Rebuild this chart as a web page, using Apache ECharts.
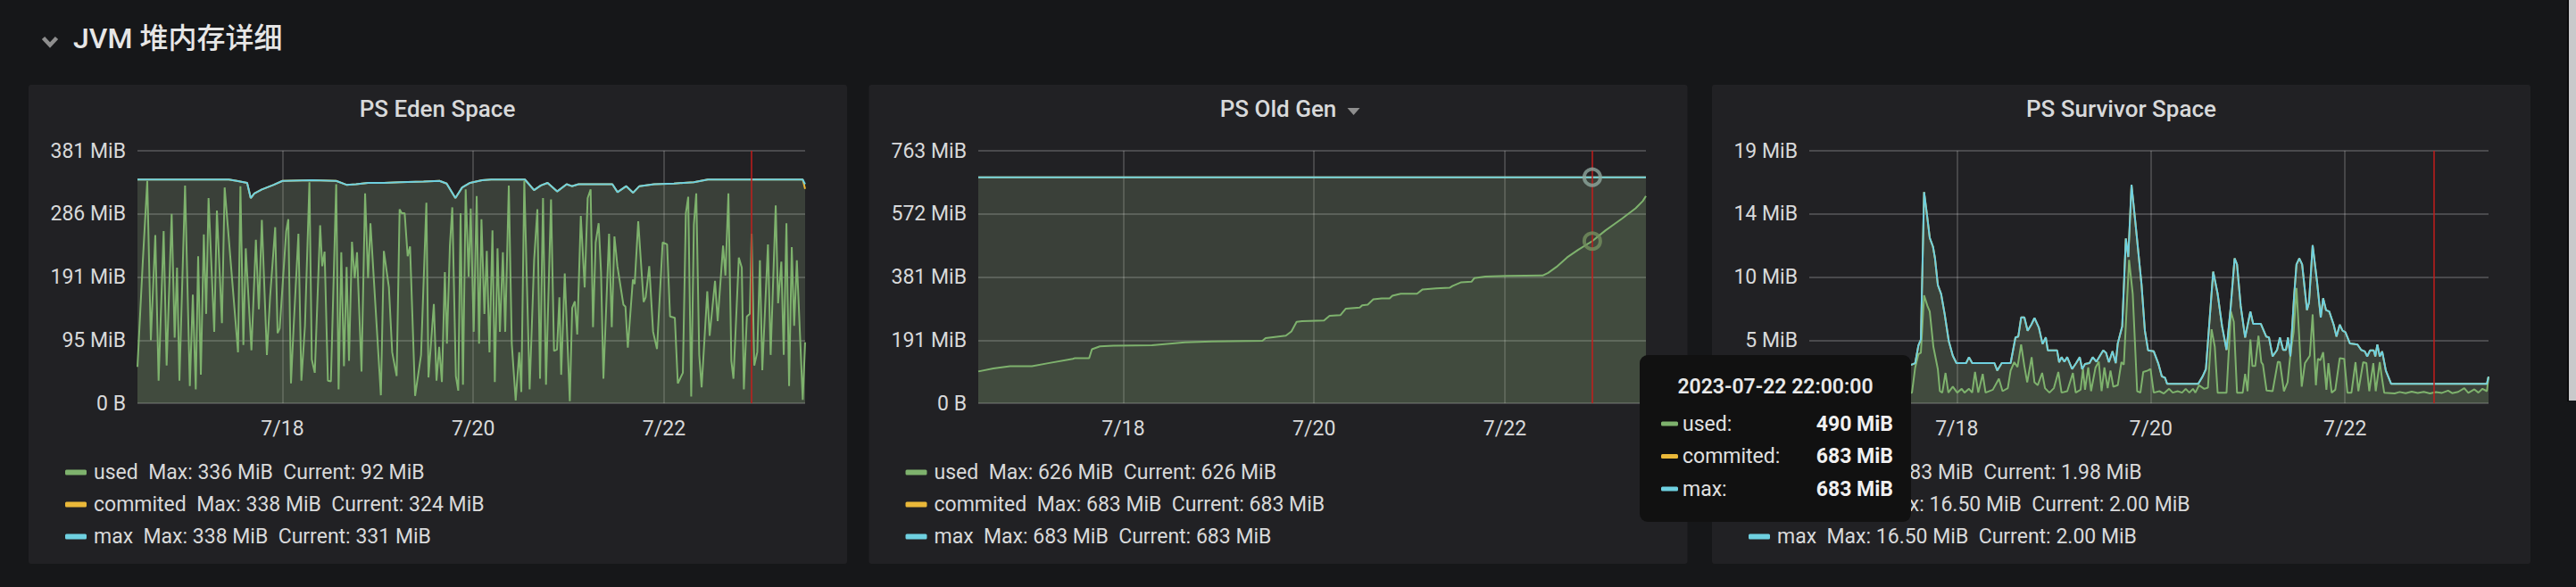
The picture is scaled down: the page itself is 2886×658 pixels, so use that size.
<!DOCTYPE html>
<html><head><meta charset="utf-8">
<script src="https://cdn.jsdelivr.net/npm/echarts@6/dist/echarts.min.js"></script>
<style>html,body{margin:0;padding:0;background:#161719;overflow:hidden}#c{width:2886px;height:658px}</style>
</head><body><div id="c"></div>
<script>
// ---------------- data ----------------
const rangeStartUTC = [2023, 6, 16, 11, 30];      // x = hours since 2023-07-16 11:30
const rangeHours = 168;
const xTickHours = [36.5, 84.5, 132.5];           // 7/18, 7/20, 7/22 00:00
const crosshairHour = 154.5;                      // 2023-07-22 22:00
const crosshairLabel = '2023-07-22 22:00:00';
const seriesNames = ['used', 'commited', 'max'];
const seriesColors = ['#7EB26D', '#EAB839', '#6ED0E0'];
const panelTitles = ['PS Eden Space', 'PS Old Gen', 'PS Survivor Space'];
const yStepsMiB = [95.367431640625, 190.73486328125, 4.76837158203125];

// [hours since range start, MiB]
const edenUsed = [[0,55],[1.35,215],[2.47,336],[3.37,95],[4.49,254],[5.32,34],[6.59,260],[7.34,57],[8.61,286],[9.36,99],[9.96,205],[10.56,34],[11.98,329],[13.18,26],[13.93,164],[14.67,21],[15.27,222],[15.95,43],[16.7,255],[17.29,135],[17.89,310],[19.32,108],[19.99,291],[21.26,121],[21.94,326],[25.31,77],[25.91,328],[26.65,88],[27.25,234],[28.68,80],[29.8,247],[30.55,142],[31.3,277],[32.57,73],[33.39,162],[34.66,266],[35.26,106],[35.79,113],[37.43,260],[37.96,278],[38.63,30],[39.31,117],[40.5,256],[41.25,34],[42.15,117],[43.27,334],[43.87,66],[44.62,46],[45.97,269],[46.49,207],[47.09,229],[47.92,34],[48.67,33],[50.01,331],[50.61,21],[51.29,228],[51.96,56],[52.63,206],[53.23,64],[53.98,244],[54.66,189],[55.25,228],[56.38,48],[57.28,317],[58.03,189],[58.63,272],[61.25,12],[62.0,230],[63.27,175],[64.1,77],[65.22,41],[65.97,293],[66.5,287],[67.24,287],[67.99,222],[68.59,237],[69.86,11],[71.36,73],[72.7,303],[73.23,39],[74.58,150],[75.25,34],[75.92,85],[76.6,32],[77.35,198],[77.87,90],[78.62,238],[79.22,296],[80.12,41],[80.72,19],[81.31,287],[81.91,28],[82.59,323],[83.34,191],[83.86,294],[84.61,108],[85.36,313],[85.96,90],[86.56,278],[87.3,135],[87.9,230],[88.58,77],[89.33,261],[89.92,32],[90.6,234],[91.2,108],[91.95,228],[92.54,108],[93.44,329],[94.19,90],[95.17,4],[96.06,77],[96.59,17],[97.34,336],[98.68,21],[99.81,216],[100.63,293],[101.3,37],[102.05,310],[102.8,28],[104.07,308],[104.82,79],[105.57,81],[106.17,160],[106.62,43],[107.52,196],[108.79,3],[109.39,144],[110.06,154],[110.66,104],[111.56,283],[112.53,175],[113.28,310],[114.03,323],[114.63,115],[115.3,243],[116.05,272],[116.65,198],[117.25,37],[118.67,256],[119.35,115],[120.02,252],[120.77,207],[122.27,149],[122.79,146],[123.39,84],[124.66,187],[125.11,180],[126.01,275],[127.36,153],[127.88,160],[128.78,207],[129.75,108],[130.73,82],[132.15,243],[133.27,240],[134.02,131],[135.22,129],[135.97,30],[137.24,46],[137.99,287],[138.59,312],[139.34,10],[140.01,270],[140.61,317],[141.36,73],[141.96,24],[143.38,169],[143.98,102],[145.33,185],[146.0,124],[147.35,238],[147.95,193],[148.7,317],[149.44,64],[149.97,37],[151.32,220],[152.07,205],[152.59,21],[153.34,131],[154.09,135],[154.54,256],[155.21,57],[155.96,77],[156.63,216],[157.23,50],[158.65,240],[159.33,73],[160.6,299],[161.2,151],[162.02,214],[162.62,73],[163.3,272],[163.97,26],[164.64,236],[165.24,117],[165.92,216],[167.41,5],[168,92]];
const edenMax = [[0,338],[23,338],[25,336],[27.6,333],[28.5,310],[29.4,317],[31.3,323],[34.3,330],[36.5,336],[44,337],[50,336],[52.6,330],[55,331],[58,333],[62,333],[66,334],[72,335],[76,336],[77.8,332],[80,310],[81.7,326],[83.7,333],[86.7,337],[89,338],[97.5,338],[99.8,322],[101.5,329],[103.2,333],[105.6,320],[108,331],[109.3,328],[111,331],[115,331],[119.5,331],[120.8,319],[123,328],[124.7,318],[126.3,328],[130,331],[135,332],[140,334],[143.5,338],[167.4,338],[168,331]];
const edenCommitted = [[0,338],[23,338],[25,336],[27.6,333],[28.5,310],[29.4,317],[31.3,323],[34.3,330],[36.5,336],[44,337],[50,336],[52.6,330],[55,331],[58,333],[62,333],[66,334],[72,335],[76,336],[77.8,332],[80,310],[81.7,326],[83.7,333],[86.7,337],[89,338],[97.5,338],[99.8,322],[101.5,329],[103.2,333],[105.6,320],[108,331],[109.3,328],[111,331],[115,331],[119.5,331],[120.8,319],[123,328],[124.7,318],[126.3,328],[130,331],[135,332],[140,334],[143.5,338],[167.4,338],[168,324]];

const oldUsed = [[0,96],[3.8,105],[8,112],[13.5,112],[17.6,121],[23.8,134],[24.2,136],[27.9,136],[28.6,163],[30.6,172],[34,174],[43.7,175],[52,184],[58.8,187],[71.5,189],[72.3,197],[77.4,204],[78.8,217],[80.1,246],[81.5,248],[87,250],[88.4,264],[91.1,266],[92.5,286],[96,289],[96.6,296],[98,298],[99.4,314],[101.5,317],[103.5,317],[104.2,325],[106.3,331],[110.4,331],[111.8,344],[115.2,347],[118.6,349],[119.3,354],[121.4,365],[124.1,367],[124.8,378],[127.6,383],[133.1,385],[142,386],[143.4,394],[145.5,412],[148.2,441],[151,464],[154.5,490],[157.8,522],[162,558],[165.4,589],[167.2,611],[168,626]];
const oldCommitted = [[0,683],[154.5,683],[168,683]];
const oldMax = [[0,683],[154.5,683],[168,683]];

const survivorUsed = [[0,0.85],[25.4,0.80],[26.2,2.70],[27.0,3.70],[27.6,3.81],[28.4,8.15],[29.2,7.37],[29.8,6.93],[30.7,4.26],[31.8,2.58],[32.3,0.91],[32.9,0.80],[33.7,2.29],[34.4,0.80],[35.5,1.25],[36.6,0.80],[37.7,1.09],[38.4,0.80],[39.5,1.09],[40.3,0.80],[41.0,2.36],[41.8,0.80],[42.9,2.21],[43.6,0.80],[45.4,1.02],[46.9,1.85],[47.8,0.91],[49.1,1.14],[49.8,2.47],[50.7,3.10],[51.5,2.74],[52.4,4.43],[53.2,2.81],[53.9,1.58],[55.0,3.48],[55.7,1.58],[56.5,1.36],[57.6,2.29],[58.3,1.14],[59.4,0.80],[60.5,1.14],[61.6,2.36],[62.4,0.80],[63.8,0.91],[65.2,2.29],[65.9,0.80],[67.1,1.02],[67.7,2.58],[68.2,1.02],[69.0,2.70],[69.7,0.91],[70.8,2.70],[71.6,3.14],[72.3,0.91],[73.0,2.70],[73.8,1.14],[74.5,2.47],[75.2,1.25],[76.3,1.36],[77.2,3.10],[77.8,2.92],[79.1,10.83],[80.0,8.27],[81.1,0.91],[81.9,0.80],[82.6,2.36],[83.7,2.47],[84.4,2.58],[85.2,0.80],[86.6,0.91],[87.7,0.74],[89.0,1.09],[89.9,0.80],[91.1,0.91],[92.2,0.80],[93.1,1.09],[94.0,0.80],[94.9,1.09],[95.5,0.80],[96.4,1.36],[97.7,1.09],[98.6,1.18],[99.5,5.59],[100.3,4.26],[101.0,0.80],[103.2,0.80],[104.3,6.93],[105.0,6.15],[105.8,0.80],[107.2,0.80],[107.8,2.21],[108.4,0.91],[109.1,4.81],[109.6,2.81],[110.3,2.81],[111.1,5.10],[111.8,3.10],[112.2,2.92],[113.1,0.96],[114.6,0.91],[115.9,3.14],[116.4,3.10],[117.4,0.91],[118.3,1.58],[119.0,3.70],[119.8,5.37],[120.5,8.71],[121.2,4.92],[121.8,1.25],[122.6,3.03],[123.8,3.59],[124.5,6.71],[125.3,1.36],[125.8,3.36],[126.4,3.25],[127.1,3.85],[127.9,1.02],[128.4,3.03],[129.2,0.80],[130.1,1.02],[131.2,3.41],[132.3,3.36],[133.1,0.80],[134.1,0.80],[135.1,3.10],[135.8,0.91],[137.0,3.10],[137.8,3.03],[138.5,0.91],[139.5,3.03],[140.1,0.91],[141.1,3.10],[141.7,1.80],[142.2,0.80],[144.8,0.74],[146,0.85],[147.5,0.76],[149,0.88],[150.5,0.78],[152,0.86],[153.5,0.74],[155,0.84],[156.5,0.78],[158,0.95],[159,0.76],[160.5,0.86],[162,1.14],[163,0.78],[164.5,1.05],[165.5,0.80],[166.5,1.09],[167.6,0.91],[168,1.98]];
const survivorMax = [[0,2.96],[25.4,2.92],[26.2,3.03],[27.0,4.37],[27.6,4.81],[28.4,15.95],[29.1,14.28],[29.8,12.5],[30.6,11.83],[31.1,10.94],[31.8,8.93],[32.6,8.27],[33.5,6.71],[34.5,4.70],[35.5,3.59],[36.4,3.03],[38.8,3.03],[39.5,3.48],[40.3,3.03],[45.8,3.03],[46.5,2.47],[47.6,3.03],[49.8,3.03],[51.0,4.97],[51.7,5.04],[52.4,6.48],[53.2,6.48],[54.0,5.48],[54.9,5.93],[55.7,6.44],[56.8,5.70],[57.7,4.48],[58.5,4.97],[59.0,3.99],[61.3,3.99],[61.8,3.10],[62.4,3.48],[63.1,3.14],[63.8,3.48],[65.0,2.58],[66.0,3.03],[66.9,3.48],[67.5,2.58],[68.2,2.96],[69.3,3.03],[70.1,3.48],[71.0,3.14],[72.7,3.99],[73.4,3.81],[74.1,3.10],[75.0,3.92],[75.8,3.03],[76.3,4.52],[77.4,5.82],[78.3,12.45],[78.9,11.05],[79.7,16.50],[80.6,13.84],[81.9,9.83],[82.2,8.9],[83.0,5.5],[83.8,4.0],[85.2,3.92],[86.3,3.03],[87.2,2.03],[88.0,1.92],[88.5,1.47],[96.2,1.47],[97.3,2.03],[98.1,2.58],[99.9,9.94],[101.0,8.27],[102.1,5.82],[103.2,4.03],[104.2,7.15],[105.2,10.94],[105.8,10.49],[106.7,7.37],[107.8,4.97],[109.1,6.93],[109.8,5.99],[111.7,5.99],[113.0,5.04],[113.7,4.97],[114.6,3.54],[115.7,4.03],[116.4,4.97],[117.2,4.03],[117.9,4.03],[118.4,4.97],[119.0,3.54],[119.9,8.04],[120.5,10.49],[121.2,10.94],[121.9,10.49],[123.1,7.04],[123.6,7.60],[124.5,11.94],[125.6,9.16],[126.5,6.48],[127.1,7.93],[127.8,7.04],[128.6,6.93],[129.7,5.93],[130.4,5.04],[131.2,5.93],[131.9,5.48],[132.6,5.37],[133.7,4.52],[134.6,4.48],[135.6,4.43],[136.5,4.03],[137.4,3.92],[138.0,3.54],[138.7,3.99],[139.6,3.99],[140.0,3.54],[140.5,4.43],[141.1,3.54],[141.7,3.92],[142.6,2.47],[143.9,1.47],[167.6,1.47],[168,2.00]];
const survivorCommitted = survivorMax; // identical in the source (Max 16.50 / Current 2.00)

const edenLegendMax = ['336 MiB', '338 MiB', '338 MiB'];
const edenLegendCurrent = ['92 MiB', '324 MiB', '331 MiB'];
const oldLegendMax = ['626 MiB', '683 MiB', '683 MiB'];
const oldLegendCurrent = ['626 MiB', '683 MiB', '683 MiB'];
const survivorLegendMax = ['10.83 MiB', '16.50 MiB', '16.50 MiB'];
const survivorLegendCurrent = ['1.98 MiB', '2.00 MiB', '2.00 MiB'];

// ---------------- chart ----------------
const T0 = Date.UTC.apply(null, rangeStartUTC);
const HOUR = 3600000;
const atHour = (arr, h) => { const p = arr.find(q => q[0] === h); return p ? p[1] : null; };

const FONT = 'Roboto, "Noto Sans", sans-serif';
const TXT = '#d8d9da';
const GRIDC = 'rgba(255,255,255,0.19)';

const panelData = [
  [edenUsed, edenCommitted, edenMax],
  [oldUsed, oldCommitted, oldMax],
  [survivorUsed, survivorCommitted, survivorMax]
];
const legendMax = [edenLegendMax, oldLegendMax, survivorLegendMax];
const legendCur = [edenLegendCurrent, oldLegendCurrent, survivorLegendCurrent];

// layout (pixels)
const panelX = [32, 973.5, 1918];
const panelW = 917;
const gridLeft = [154, 1096, 2027];
const gridWidth = [748, 748, 761];
const gridTop = 169, gridHeight = 283;

const yFmt = v => v === 0 ? '0 B' : Math.round(v) + ' MiB';
const xFmt = h => { const d = new Date(T0 + h * HOUR); return (d.getUTCMonth() + 1) + '/' + d.getUTCDate(); };

const grids = [], xAxes = [], yAxes = [], series = [], legends = [];
for (let i = 0; i < 3; i++) {
  grids.push({ left: gridLeft[i], top: gridTop, width: gridWidth[i], height: gridHeight, containLabel: false });
  xAxes.push({
    type: 'value', gridIndex: i, min: 0, max: rangeHours,
    axisLine: { show: false },
    axisTick: { show: false, customValues: xTickHours },
    axisLabel: { customValues: xTickHours, formatter: xFmt, color: TXT, fontSize: 23, fontFamily: FONT, margin: 17 },
    splitLine: { show: true, lineStyle: { color: GRIDC, width: 1.8 } }
  });
  yAxes.push({
    type: 'value', gridIndex: i, min: 0, max: yStepsMiB[i] * 4, interval: yStepsMiB[i],
    axisLine: { show: false }, axisTick: { show: false },
    axisLabel: { formatter: yFmt, color: TXT, fontSize: 23, fontFamily: FONT, margin: 13 },
    splitLine: { show: true, lineStyle: { color: GRIDC, width: 1.8 } }
  });
  for (let s = 0; s < 3; s++) {
    const ser = {
      type: 'line', name: seriesNames[s], xAxisIndex: i, yAxisIndex: i,
      data: panelData[i][s], symbol: 'none', showSymbol: false, silent: true,
      lineStyle: { width: 2, color: seriesColors[s] },
      itemStyle: { color: seriesColors[s] },
      areaStyle: { color: seriesColors[s], opacity: 0.1 },
      emphasis: { disabled: true }
    };
    if (s === 0) {
      ser.markLine = {
        silent: true, symbol: ['none', 'none'], label: { show: false },
        lineStyle: { color: 'rgba(200,28,26,0.72)', width: 2, type: 'solid' },
        emphasis: { disabled: true },
        data: [{ xAxis: crosshairHour }]
      };
    }
    series.push(ser);
  }
  const lm = legendMax[i], lc = legendCur[i];
  legends.push({
    orient: 'vertical', left: panelX[i] + 41, top: 518, padding: 0,
    data: seriesNames, icon: 'roundRect', itemWidth: 24, itemHeight: 6, itemGap: 13,
    selectedMode: false, itemStyle: { borderWidth: 0 },
    textStyle: { color: TXT, fontSize: 23, fontFamily: FONT, lineHeight: 23, padding: [0, 0, 0, 3] },
    formatter: name => { const k = seriesNames.indexOf(name); return name + '  Max: ' + lm[k] + '  Current: ' + lc[k]; }
  });
}

// hover rings at the crosshair in PS Old Gen
const ttUsed = atHour(oldUsed, crosshairHour);
const ttCommitted = atHour(oldCommitted, crosshairHour);
const ttMax = atHour(oldMax, crosshairHour);
series.push({
  type: 'scatter', name: 'hover', xAxisIndex: 1, yAxisIndex: 1, silent: true, z: 5,
  symbolSize: 18,
  data: [
    { value: [crosshairHour, ttMax], itemStyle: { color: 'rgba(0,0,0,0)', borderColor: '#8fa89e', borderWidth: 4 } },
    { value: [crosshairHour, ttUsed], itemStyle: { color: 'rgba(0,0,0,0)', borderColor: '#74905f', borderWidth: 4 } }
  ]
});

const fmtMiB = v => Math.round(v) + ' MiB';
const graphics = [];
panelX.forEach(x => graphics.push({ type: 'rect', z: -10, silent: true, shape: { x: x, y: 95, width: panelW, height: 537, r: 3 }, style: { fill: '#212124' } }));
// page scrollbar at the right edge
graphics.push({ type: 'rect', z: -9, silent: true, shape: { x: 2878, y: 0, width: 8, height: 449 }, style: { fill: '#c9c9cb' } });
graphics.push({ type: 'rect', z: -9, silent: true, shape: { x: 2876, y: 0, width: 2, height: 450 }, style: { fill: '#0b0b0c' } });
graphics.push({ type: 'polyline', z: 10, silent: true, shape: { points: [[48.5, 42.5], [56, 50.5], [63.5, 42.5]] }, style: { stroke: '#8e8e8e', lineWidth: 4.5, fill: null } });
graphics.push({ type: 'text', z: 10, silent: true, style: { x: 82, y: 43, text: 'JVM 堆内存详细', fill: '#e6e6e6', fontSize: 32, fontWeight: 500, fontFamily: 'Roboto, "Noto Sans CJK SC", sans-serif', verticalAlign: 'middle', align: 'left' } });
const titleCx = [490, 1432, 2376.5];
panelTitles.forEach((t, i) => graphics.push({ type: 'text', z: 10, silent: true, style: { x: titleCx[i], y: 122, text: t, fill: TXT, fontSize: 26, fontWeight: 500, fontFamily: FONT, align: 'center', verticalAlign: 'middle' } }));
graphics.push({ type: 'polygon', z: 10, silent: true, shape: { points: [[1509.5, 121], [1523.5, 121], [1516.5, 129]] }, style: { fill: '#8e8e8e' } });
const ttRows = [['used:', ttUsed], ['commited:', ttCommitted], ['max:', ttMax]];
const ttChildren = [
  { type: 'rect', shape: { x: 1837, y: 398, width: 304, height: 187, r: 9 }, style: { fill: '#111111' }, z: 100 },
  { type: 'text', z: 101, style: { x: 1989, y: 433, text: crosshairLabel, fill: '#e8e8e8', fontSize: 23, fontWeight: 600, fontFamily: FONT, align: 'center', verticalAlign: 'middle' } }
];
ttRows.forEach((r, k) => {
  const y = 475 + k * 36.5;
  ttChildren.push({ type: 'rect', z: 101, shape: { x: 1861, y: y - 2.5, width: 19, height: 5, r: 1.5 }, style: { fill: seriesColors[k] } });
  ttChildren.push({ type: 'text', z: 101, style: { x: 1885, y: y, text: r[0], fill: '#e0e0e0', fontSize: 23, fontFamily: FONT, align: 'left', verticalAlign: 'middle' } });
  ttChildren.push({ type: 'text', z: 101, style: { x: 2121, y: y, text: fmtMiB(r[1]), fill: '#f0f0f0', fontSize: 23, fontWeight: 700, fontFamily: FONT, align: 'right', verticalAlign: 'middle' } });
});
graphics.push({ type: 'group', z: 100, silent: true, children: ttChildren });

const chart = echarts.init(document.getElementById('c'), null, { renderer: 'svg', width: 2886, height: 658 });
chart.setOption({
  backgroundColor: '#161719',
  animation: false,
  grid: grids, xAxis: xAxes, yAxis: yAxes, series: series, legend: legends,
  graphic: { elements: graphics }
});
</script></body></html>
